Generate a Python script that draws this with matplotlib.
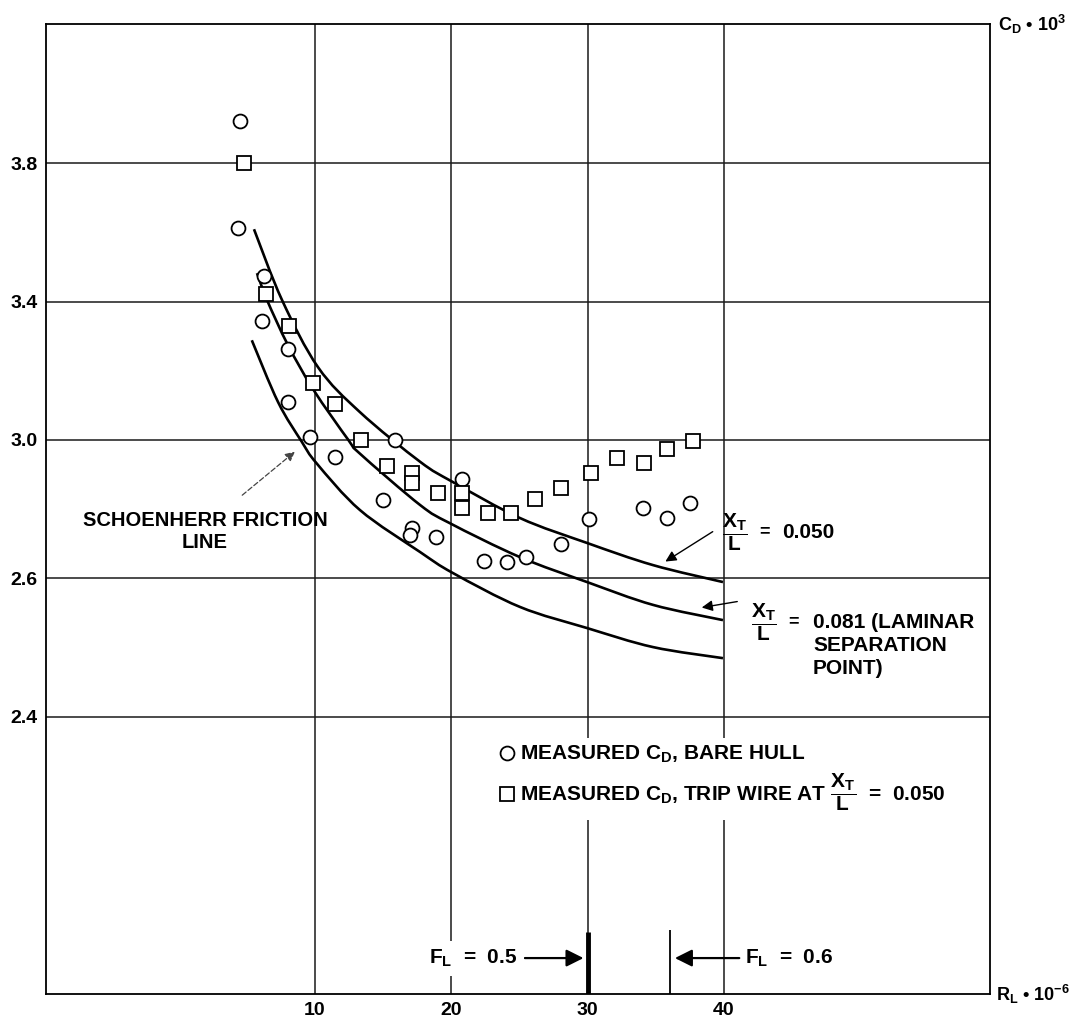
import matplotlib.pyplot as plt
from matplotlib.path import Path
from matplotlib.patches import PathPatch
import numpy as np

# 字体: 粗体无衬线, 数学文本同样用粗体
plt.rcParams['font.family'] = ['Liberation Sans', 'DejaVu Sans']
plt.rcParams['font.weight'] = 'bold'
plt.rcParams['mathtext.fontset'] = 'custom'
plt.rcParams['mathtext.rm'] = 'Liberation Sans:bold'
plt.rcParams['mathtext.it'] = 'Liberation Sans:bold'
plt.rcParams['mathtext.bf'] = 'Liberation Sans:bold'
plt.rcParams['mathtext.default'] = 'rm'

# measured C_D, bare hull (R_L*1e-6, C_D*1e3)
bare_re = [4.50, 4.35, 6.26, 6.11, 8.02, 8.02, 9.63, 11.47, 15.87, 14.99, 17.12, 16.97,
           18.88, 20.78, 22.40, 24.09, 25.48, 28.05, 30.10, 34.06, 35.83, 37.51]
bare_cd = [3.921, 3.612, 3.473, 3.343, 3.262, 3.109, 3.008, 2.950, 3.000, 2.826, 2.745, 2.725,
           2.719, 2.887, 2.650, 2.647, 2.661, 2.699, 2.771, 2.803, 2.774, 2.817]

# measured C_D, trip wire at X_T/L = 0.050
trip_re = [4.79, 6.41, 8.09, 9.85, 11.47, 13.37, 15.28, 17.12, 17.12, 19.02, 20.78, 20.78,
           22.69, 24.38, 26.14, 28.05, 30.25, 32.16, 34.14, 35.83, 37.73]
trip_cd = [3.800, 3.421, 3.329, 3.164, 3.103, 3.000, 2.924, 2.904, 2.875, 2.846, 2.846, 2.803,
           2.788, 2.788, 2.829, 2.861, 2.904, 2.947, 2.933, 2.973, 2.997]

# 三条曲线 (读图得到的点)
line_050_re = [5.52, 7.58, 10.22, 13.30, 17.70, 20.12, 25.04, 29.96, 34.80, 39.93]
line_050_cd = [3.609, 3.404, 3.210, 3.080, 2.937, 2.878, 2.774, 2.702, 2.638, 2.589]
line_081_re = [5.74, 6.48, 8.00, 9.88, 12.44, 13.30, 17.70, 19.90, 25.04, 29.96, 34.80, 39.93]
line_081_cd = [3.482, 3.404, 3.275, 3.145, 3.000, 2.960, 2.812, 2.759, 2.661, 2.589, 2.523, 2.479]
schoen_re = [5.36, 7.29, 9.02, 10.12, 13.30, 17.70, 20.12, 25.04, 29.96, 34.80, 39.93]
schoen_cd = [3.288, 3.109, 2.995, 2.932, 2.797, 2.676, 2.615, 2.517, 2.456, 2.401, 2.369]

xticks = [10, 20, 30, 40]
xtick_labels = ['10', '20', '30', '40']
yticks = [3.8, 3.4, 3.0, 2.6, 2.2]
ytick_labels = ['3.8', '3.4', '3.0', '2.6', '2.4']

fl_values = [30.0, 36.05]
fl_labels = ['F$_L$  =  0.5', 'F$_L$  =  0.6']


def smooth_line(ax, xs, ys, **kw):
    # 用三次贝塞尔曲线平滑地穿过读出的点
    p = np.column_stack([xs, ys])
    verts = [p[0]]
    codes = [Path.MOVETO]
    for i in range(len(p) - 1):
        p0 = p[i - 1] if i > 0 else p[i]
        p3 = p[i + 2] if i + 2 < len(p) else p[i + 1]
        c1 = p[i] + (p[i + 1] - p0) / 6.0
        c2 = p[i + 1] - (p3 - p[i]) / 6.0
        verts += [c1, c2, p[i + 1]]
        codes += [Path.CURVE4] * 3
    ax.add_patch(PathPatch(Path(verts, codes), fill=False, **kw))


fig = plt.figure(figsize=(10.75, 10.21), dpi=100)
ax = fig.add_axes([0.0428, 0.0264, 0.8781, 0.9500])
ax.set_xlim(-9.74, 59.52)
ax.set_ylim(1.398, 4.202)

ax.set_xticks(xticks, xtick_labels)
ax.set_yticks(yticks, ytick_labels)
ax.tick_params(length=0, labelsize=14, pad=6)
ax.grid(True, color='#1a1a1a', lw=1.1)
ax.set_axisbelow(True)
for s in ax.spines.values():
    s.set_linewidth(1.3)

for xs, ys in [(line_050_re, line_050_cd), (line_081_re, line_081_cd), (schoen_re, schoen_cd)]:
    smooth_line(ax, xs, ys, edgecolor='black', lw=1.9, zorder=2)

h1, = ax.plot(bare_re, bare_cd, 'o', mfc='white', mec='black', ms=10, mew=1.3, zorder=3)
h2, = ax.plot(trip_re, trip_cd, 's', mfc='white', mec='black', ms=10, mew=1.3, zorder=3)

leg = ax.legend([h1, h2],
                ['MEASURED C$_D$, BARE HULL',
                 r'MEASURED C$_D$, TRIP WIRE AT $\dfrac{X_T}{L}$  =  0.050'],
                loc='upper left', bbox_to_anchor=(0.462, 0.275), fontsize=15,
                frameon=True, facecolor='white', edgecolor='none', framealpha=1,
                fancybox=False, borderpad=0.3, handletextpad=0.2, handlelength=0.8,
                labelspacing=0.3)
leg.set_zorder(5)

# Schoenherr 标注
ax.text(1.93, 2.736, 'SCHOENHERR FRICTION\nLINE', ha='center', va='center',
        fontsize=14.5, linespacing=1.2)
ax.annotate('', xy=(8.68, 2.971), xytext=(4.50, 2.835),
            arrowprops=dict(arrowstyle='-|>', color='#444444', lw=0.9, ls=(0, (4, 2)),
                            mutation_scale=14))

# X_T/L = 0.050
ax.text(40.81, 2.733, r'$\dfrac{X_T}{L}$', ha='center', va='center', fontsize=15)
ax.text(43.0, 2.733, '=', ha='center', va='center', fontsize=13)
ax.text(44.3, 2.733, '0.050', ha='left', va='center', fontsize=15)
ax.annotate('', xy=(35.53, 2.644), xytext=(39.35, 2.739),
            arrowprops=dict(arrowstyle='-|>', color='black', lw=1.0, mutation_scale=16))

# X_T/L = 0.081
ax.text(42.94, 2.473, r'$\dfrac{X_T}{L}$', ha='center', va='center', fontsize=15)
ax.text(45.07, 2.473, '=', ha='center', va='center', fontsize=13)
ax.text(46.54, 2.473, '0.081 (LAMINAR', ha='left', va='center', fontsize=15)
ax.text(46.54, 2.407, 'SEPARATION', ha='left', va='center', fontsize=15)
ax.text(46.54, 2.340, 'POINT)', ha='left', va='center', fontsize=15)
ax.annotate('', xy=(38.17, 2.514), xytext=(41.18, 2.534),
            arrowprops=dict(arrowstyle='-|>', color='black', lw=1.0, mutation_scale=16))

# F_L 标记
ax.vlines(fl_values[0], 1.398, 1.577, color='black', lw=3.5, zorder=3)
ax.vlines(fl_values[1], 1.398, 1.583, color='black', lw=1.3, zorder=3)
ax.text(24.82, 1.502, fl_labels[0], ha='right', va='center', fontsize=15, zorder=4,
        bbox=dict(facecolor='white', edgecolor='none', pad=5))
ax.annotate('', xy=(fl_values[0] - 0.1, 1.502), xytext=(25.19, 1.502),
            arrowprops=dict(arrowstyle='-|>', color='black', lw=1.6, mutation_scale=26))
ax.text(41.55, 1.502, fl_labels[1], ha='left', va='center', fontsize=15, zorder=4)
ax.annotate('', xy=(fl_values[1] + 0.15, 1.502), xytext=(41.33, 1.502),
            arrowprops=dict(arrowstyle='-|>', color='black', lw=1.6, mutation_scale=26))

# 轴标签
ax.text(1.008, 1.0, 'C$_D$ • 10$^3$', transform=ax.transAxes, ha='left', va='center',
        fontsize=13)
ax.text(1.006, 0.0, 'R$_L$ • 10$^{-6}$', transform=ax.transAxes, ha='left', va='center',
        fontsize=13)

fig.savefig('out.png', dpi=100, facecolor='white')
